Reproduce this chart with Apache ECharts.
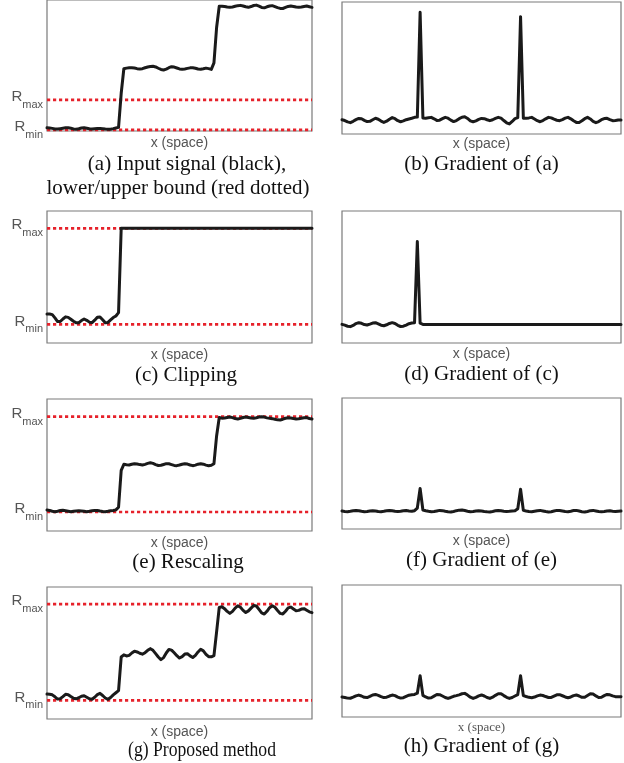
<!DOCTYPE html>
<html>
<head>
<meta charset="utf-8">
<script src="https://cdn.jsdelivr.net/npm/echarts@6/dist/echarts.min.js"></script>
<style>
html, body { margin: 0; padding: 0; background: #fff; }
#main { width: 624px; height: 763px; }
</style>
</head>
<body>
<div id="main"></div>
<script>
// signal values (x = 0..100 across each panel, y = % of panel height)
const signalA = [2.4,2.3,2.0,1.6,1.5,1.8,2.1,2.4,2.5,2.1,
  1.6,1.3,1.7,2.3,2.5,2.1,1.7,1.5,1.7,1.9,
  2.0,1.8,1.5,1.3,1.4,1.8,2.3,2.8,28.8,47.5,
  48.0,48.2,48.3,48.1,47.6,47.3,47.6,48.3,48.9,49.3,
  49.4,48.9,47.9,47.0,46.6,47.2,48.3,49.1,48.8,48.1,
  47.4,47.1,47.4,47.8,48.2,48.3,47.9,47.3,47.1,47.5,
  48.0,47.6,47.0,52.0,79.0,95.2,95.3,95.0,94.6,94.4,
  94.7,95.2,95.7,95.9,95.4,94.8,94.4,95.0,95.8,96.1,
  95.3,94.3,94.0,94.8,95.4,95.7,95.0,94.2,93.6,93.5,
  94.3,95.1,95.4,95.1,94.6,94.4,94.7,95.1,95.4,94.9,
  94.4];
const gradA = [10.8,10.2,9.2,8.6,9.6,10.9,11.8,11.5,10.3,9.4,
  9.6,10.8,11.9,11.2,9.8,8.8,9.7,11.2,12.4,11.6,
  10.1,9.3,9.9,10.8,11.4,11.9,12.6,12.8,92.2,12.2,
  12.0,12.3,12.6,11.5,10.3,10.5,11.6,12.6,12.0,10.5,
  9.4,10.2,11.6,12.7,13.1,11.8,10.0,9.3,10.0,11.1,
  11.8,11.6,10.8,10.1,10.8,11.8,12.6,12.0,10.2,8.5,
  7.6,9.5,11.6,12.4,88.9,12.0,11.9,12.2,12.6,11.4,
  10.1,9.3,10.2,11.5,12.6,12.2,11.2,10.4,10.1,10.9,
  12.0,12.6,11.5,10.0,8.8,8.7,10.0,11.6,12.6,11.4,
  9.6,8.6,9.4,10.8,11.7,11.9,10.9,10.1,10.3,10.6,
  10.6];
const signalC = [22.0,22.0,21.5,19.0,16.2,16.3,18.2,19.8,19.4,18.0,
  16.5,15.3,15.4,17.0,18.2,17.2,15.8,15.5,17.3,19.5,
  19.7,17.6,15.3,15.6,17.5,19.3,20.5,23.0,86.9,86.9,
  86.9,86.9,86.9,86.9,86.9,86.9,86.9,86.9,86.9,86.9,
  86.9,86.9,86.9,86.9,86.9,86.9,86.9,86.9,86.9,86.9,
  86.9,86.9,86.9,86.9,86.9,86.9,86.9,86.9,86.9,86.9,
  86.9,86.9,86.9,86.9,86.9,86.9,86.9,86.9,86.9,86.9,
  86.9,86.9,86.9,86.9,86.9,86.9,86.9,86.9,86.9,86.9,
  86.9,86.9,86.9,86.9,86.9,86.9,86.9,86.9,86.9,86.9,
  86.9,86.9,86.9,86.9,86.9,86.9,86.9,86.9,86.9,86.9,
  86.9];
const gradC = [14.1,13.5,12.7,12.4,13.3,14.7,15.4,14.9,14.0,13.6,
  14.3,15.1,15.4,14.5,13.5,13.1,13.8,14.8,15.4,14.8,
  13.4,12.5,12.7,13.6,14.6,15.1,15.4,76.8,15.0,14.1,
  14.1,14.1,14.1,14.1,14.1,14.1,14.1,14.1,14.1,14.1,
  14.1,14.1,14.1,14.1,14.1,14.1,14.1,14.1,14.1,14.1,
  14.1,14.1,14.1,14.1,14.1,14.1,14.1,14.1,14.1,14.1,
  14.1,14.1,14.1,14.1,14.1,14.1,14.1,14.1,14.1,14.1,
  14.1,14.1,14.1,14.1,14.1,14.1,14.1,14.1,14.1,14.1,
  14.1,14.1,14.1,14.1,14.1,14.1,14.1,14.1,14.1,14.1,
  14.1,14.1,14.1,14.1,14.1,14.1,14.1,14.1,14.1,14.1,
  14.1];
const signalE = [15.9,15.6,15.0,14.6,15.0,15.5,15.7,15.4,15.0,14.6,
  14.9,15.2,15.4,15.2,14.9,14.6,14.9,15.3,15.6,15.5,
  15.1,14.8,14.6,14.9,15.3,15.6,16.0,18.0,46.0,50.5,
  50.2,50.0,50.6,51.0,50.7,50.3,50.0,50.5,51.2,51.7,
  51.2,50.3,49.6,49.8,50.4,51.0,50.9,50.3,49.7,49.5,
  50.0,50.6,51.0,50.7,50.0,49.5,49.9,50.6,51.0,50.6,
  49.9,49.5,49.8,51.0,72.0,86.0,85.5,85.6,86.0,86.4,
  85.9,85.2,84.8,85.3,86.0,86.4,86.0,85.6,85.4,85.8,
  86.3,86.6,86.3,85.7,85.4,85.1,84.6,84.2,84.1,84.7,
  85.4,85.8,85.6,85.2,84.9,85.0,85.4,85.8,85.9,85.2,
  84.8];
const gradE = [13.7,13.4,13.2,13.5,13.9,14.2,13.9,13.5,13.2,13.4,
  13.8,14.0,13.8,13.4,13.2,13.5,13.9,14.2,13.9,13.5,
  13.3,13.5,13.9,14.1,13.8,13.6,14.0,16.0,31.0,14.5,
  13.9,13.5,13.2,13.4,13.8,14.2,14.0,13.5,13.1,13.0,
  13.4,14.0,14.4,14.5,14.1,13.6,13.2,13.3,13.7,14.0,
  13.8,13.4,13.1,13.0,13.4,13.9,14.2,14.0,13.6,13.4,
  13.5,13.8,14.0,15.5,30.3,14.2,13.7,13.3,13.2,13.6,
  14.0,14.2,13.8,13.3,13.0,13.2,13.7,14.2,14.1,13.7,
  13.3,13.2,13.6,14.1,14.2,13.7,13.2,13.0,13.4,14.0,
  14.2,13.8,13.4,13.2,13.4,13.8,13.9,13.6,13.4,13.6,
  13.7];
const signalG = [18.9,18.7,18.3,16.8,15.1,15.4,17.0,18.7,18.4,17.0,
  15.7,15.3,16.1,17.2,17.6,16.5,15.3,15.0,16.5,18.4,
  19.4,17.8,15.9,14.9,16.3,18.3,19.9,21.5,47.0,48.6,
  47.8,48.2,50.0,51.4,50.8,49.8,49.1,50.2,52.0,53.3,
  52.0,49.5,47.0,45.0,46.5,50.0,52.7,52.2,50.2,48.0,
  46.2,47.3,49.2,49.4,47.8,46.6,48.2,50.8,52.8,51.6,
  49.0,47.2,47.1,48.0,66.0,84.5,85.0,83.6,81.5,80.0,
  81.5,84.0,85.8,84.6,82.3,80.7,81.9,84.0,86.0,85.6,
  83.0,80.4,79.5,81.6,84.3,85.8,84.6,82.2,80.0,79.6,
  81.6,84.2,84.8,83.4,82.0,82.3,83.3,83.6,82.4,81.2,
  80.6];
const gradG = [15.2,14.8,14.3,14.2,15.0,16.0,16.6,15.9,14.9,14.7,
  15.6,16.7,17.1,16.4,15.4,14.7,15.0,15.9,16.6,16.2,
  15.1,14.3,14.6,15.6,16.5,16.9,17.1,18.0,31.3,16.4,
  15.2,14.3,14.6,15.8,17.0,16.9,15.9,14.8,14.1,14.8,
  15.7,16.2,16.8,17.6,17.9,16.6,15.0,14.1,14.9,16.0,
  16.7,15.9,14.8,14.1,15.0,16.4,17.6,17.6,16.2,14.9,
  14.1,14.8,15.9,17.0,31.3,16.2,15.5,14.9,14.6,15.1,
  16.0,16.6,16.3,15.5,14.8,14.8,15.8,16.8,16.9,16.1,
  15.2,14.6,15.2,16.2,16.7,15.9,14.9,15.0,16.3,17.6,
  17.4,16.0,14.8,15.0,16.2,17.1,16.8,16.0,15.4,15.3,
  15.4];

// [Rmin, Rmax] for the signal panels
const boundsA = [0.8, 23.7];
const boundsC = [14.1, 86.9];
const boundsE = [14.4, 86.6];
const boundsG = [14.1, 87.1];

const xName = 'x (space)';

// panel layout (pixels)
const panels = [
  { y: signalA, bounds: boundsA, box: { left: 47, top: 0, width: 265, height: 131 }, gap: 5 },
  { y: gradA, box: { left: 342, top: 2, width: 279, height: 132 }, gap: 3.5 },
  { y: signalC, bounds: boundsC, box: { left: 47, top: 211, width: 265, height: 132 }, gap: 5.5 },
  { y: gradC, box: { left: 342, top: 211, width: 279, height: 132 }, gap: 4.5 },
  { y: signalE, bounds: boundsE, box: { left: 47, top: 399, width: 265, height: 132 }, gap: 5 },
  { y: gradE, box: { left: 342, top: 398, width: 279, height: 131 }, gap: 5.5 },
  { y: signalG, bounds: boundsG, box: { left: 47, top: 587, width: 265, height: 132 }, gap: 6 },
  { y: gradG, box: { left: 342, top: 585, width: 279, height: 132 }, gap: 4, serifName: true }
];

// captions: text, centre x, centre y, horizontal squeeze
const captions = [
  ['(a) Input signal (black),', 187, 164, 1],
  ['lower/upper bound (red dotted)', 178, 188, 1],
  ['(b) Gradient of (a)', 481.5, 164, 1],
  ['(c) Clipping', 186, 375, 1],
  ['(d) Gradient of (c)', 481.5, 374, 1],
  ['(e) Rescaling', 188, 562, 1],
  ['(f) Gradient of (e)', 481.5, 560, 1],
  ['(g) Proposed method', 202, 750, 0.84],
  ['(h) Gradient of (g)', 481.5, 746, 1]
];

const RED = '#e6222b';
const INK = '#1a1a1a';
const GREY = '#555';

const grids = [], xAxes = [], yAxes = [], series = [];

panels.forEach((p, i) => {
  grids.push(Object.assign({
    show: true, borderColor: '#7a7a7a', borderWidth: 1.2,
    backgroundColor: 'transparent', containLabel: false, outerBoundsMode: 'none'
  }, p.box));
  xAxes.push({
    type: 'value', gridIndex: i, min: 0, max: 100,
    axisLine: { show: false }, axisTick: { show: false },
    axisLabel: { show: false }, splitLine: { show: false },
    name: xName, nameLocation: 'middle', nameGap: p.gap,
    nameTextStyle: p.serifName
      ? { fontFamily: 'Liberation Serif', fontSize: 13, color: GREY }
      : { fontFamily: 'Liberation Sans', fontSize: 14, color: GREY }
  });
  const b = p.bounds;
  yAxes.push({
    type: 'value', gridIndex: i, min: 0, max: 100, show: !!b,
    axisLine: { show: false }, axisTick: { show: false }, splitLine: { show: false },
    axisLabel: {
      show: !!b, customValues: b || [], margin: 4,
      formatter: v => (b && v === b[1]) ? '{r|R}{s|max}' : '{r|R}{s|min}',
      rich: {
        r: { fontFamily: 'Liberation Sans', fontSize: 15, color: GREY, verticalAlign: 'top' },
        s: { fontFamily: 'Liberation Sans', fontSize: 11, color: GREY, verticalAlign: 'top', padding: [10, 0, 0, 0] }
      }
    }
  });
  if (b) {
    b.forEach(v => {
      series.push({
        type: 'line', xAxisIndex: i, yAxisIndex: i, z: 1, silent: true,
        symbol: 'none', data: [[0, v], [100, v]],
        lineStyle: { color: RED, width: 2.7, type: [3.2, 2.8], cap: 'butt' }
      });
    });
  }
  series.push({
    type: 'line', xAxisIndex: i, yAxisIndex: i, z: 3, silent: true,
    symbol: 'none',
    data: p.y.map((v, k) => [k, v]),
    lineStyle: { color: INK, width: 3, join: 'round', cap: 'round' }
  });
});

const captionText = captions.map(c => ({
  type: 'text', x: c[1], y: c[2], scaleX: c[3], silent: true,
  style: {
    text: c[0], fill: '#111', font: '21px "Liberation Serif"',
    align: 'center', verticalAlign: 'middle',
    textAlign: 'center', textVerticalAlign: 'middle'
  }
}));

const chart = echarts.init(document.getElementById('main'), null, { renderer: 'canvas' });
chart.setOption({
  backgroundColor: '#fff',
  animation: false,
  grid: grids,
  xAxis: xAxes,
  yAxis: yAxes,
  series: series,
  graphic: captionText
});
</script>
</body>
</html>
